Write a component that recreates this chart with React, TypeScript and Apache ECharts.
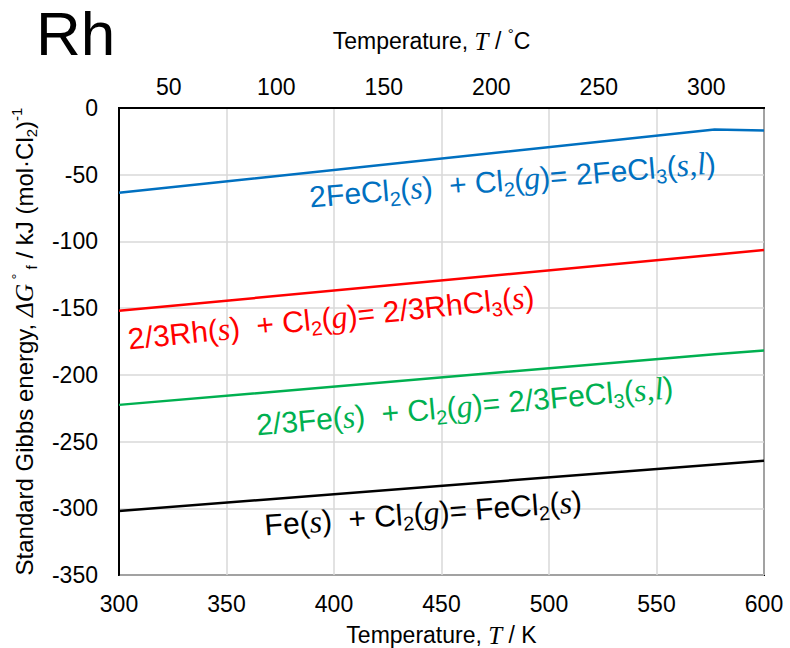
import React, { useEffect, useRef } from "react";
import * as echarts from "echarts";

const kelvinTicks = [300, 350, 400, 450, 500, 550, 600];
const celsiusTicks = [50, 100, 150, 200, 250, 300];
const energyTicks = [0, -50, -100, -150, -200, -250, -300, -350];

const seriesNames = [
  "2FeCl2(s) + Cl2(g) = 2FeCl3(s,l)",
  "2/3Rh(s) + Cl2(g) = 2/3RhCl3(s)",
  "2/3Fe(s) + Cl2(g) = 2/3FeCl3(s,l)",
  "Fe(s) + Cl2(g) = FeCl2(s)",
];
const seriesColors = ["#0070C0", "#FF0000", "#00B050", "#000000"];

const feCl2ToFeCl3: [number, number][] = [
  [300, -63.5],
  [577, -16.2],
  [600, -16.8],
];
const rhToRhCl3: [number, number][] = [
  [300, -152],
  [600, -106.5],
];
const feToFeCl3: [number, number][] = [
  [300, -222.5],
  [577, -184.5],
  [600, -181.7],
];
const feToFeCl2: [number, number][] = [
  [300, -302],
  [600, -264.3],
];
const seriesData = [feCl2ToFeCl3, rhToRhCl3, feToFeCl3, feToFeCl2];

const labelTexts = [
  "2FeCl{sub|2}({it|s})  + Cl{sub|2}({it|g})= 2FeCl{sub|3}({it|s,l})",
  "2/3Rh({it|s})  + Cl{sub|2}({it|g})= 2/3RhCl{sub|3}({it|s})",
  "2/3Fe({it|s})  + Cl{sub|2}({it|g})= 2/3FeCl{sub|3}({it|s,l})",
  "Fe({it|s})  + Cl{sub|2}({it|g})= FeCl{sub|2}({it|s})",
];

const SANS = "Liberation Sans, Arial, sans-serif";
const SERIF = "Liberation Serif, Times New Roman, serif";

export default function App() {
  const ref = useRef<HTMLDivElement>(null);
  useEffect(() => {
    if (!ref.current) return;
    const chart = echarts.init(ref.current, undefined, { renderer: "svg" });

    const richLabel = (color: string) => ({
      sub: { fontSize: 20, lineHeight: 20, verticalAlign: "bottom", fontFamily: SANS, fill: color },
      it: { fontSize: 32, lineHeight: 38, fontStyle: "italic", fontFamily: SERIF, fill: color },
    });

    const labelPos = [
      { x: 311, y: 216, rot: 4.8 },
      { x: 130, y: 358, rot: 6.0 },
      { x: 258, y: 444, rot: 5.2 },
      { x: 266, y: 544, rot: 4.3 },
    ];

    const axisNameRich = {
      it: { fontSize: 25.5, lineHeight: 30, fontStyle: "italic", fontFamily: SERIF, color: "#000" },
      sup: { fontSize: 15, lineHeight: 15, verticalAlign: "top", fontFamily: SANS, color: "#000" },
      sub: { fontSize: 15, lineHeight: 15, verticalAlign: "bottom", fontFamily: SANS, color: "#000" },
    };

    const axisNameRichTop = {
      it: { fontSize: 25, lineHeight: 30, fontStyle: "italic", fontFamily: SERIF, color: "#000" },
      sup: { fontSize: 15, lineHeight: 15, verticalAlign: "top", fontFamily: SANS, color: "#000" },
    };

    chart.setOption({
      animation: false,
      backgroundColor: "#ffffff",
      grid: {
        left: 119,
        right: 26,
        top: 108,
        bottom: 73,
        show: true,
        borderColor: "#000",
        borderWidth: 2,
        outerBoundsMode: "none",
        containLabel: false,
      },
      xAxis: [
        {
          type: "value",
          min: 300,
          max: 600,
          interval: 50,
          position: "bottom",
          axisLine: { show: true, lineStyle: { color: "#000", width: 2 } },
          axisTick: { show: false },
          axisLabel: {
            fontSize: 23,
            fontFamily: SANS,
            color: "#000",
            margin: 17,
            customValues: kelvinTicks,
          },
          splitLine: { show: true, lineStyle: { color: "#d9d9d9", width: 1.5 } },
          name: "Temperature, {it|T} / K",
          nameLocation: "middle",
          nameGap: 45,
          nameTextStyle: {
            fontSize: 23,
            fontFamily: SANS,
            color: "#000",
            lineHeight: 30,
            rich: axisNameRichTop,
          },
        },
        {
          type: "value",
          min: 26.85,
          max: 326.85,
          position: "top",
          axisLine: { show: true, lineStyle: { color: "#000", width: 2 } },
          axisTick: { show: false },
          axisLabel: {
            fontSize: 23,
            fontFamily: SANS,
            color: "#000",
            margin: 10,
            customValues: celsiusTicks,
          },
          splitLine: { show: false },
          name: "Temperature, {it|T} / {sup|°}C",
          nameLocation: "middle",
          nameGap: 52,
          nameTextStyle: {
            fontSize: 23,
            fontFamily: SANS,
            color: "#000",
            lineHeight: 30,
            padding: [0, 20, 0, 0],
            rich: axisNameRichTop,
          },
        },
      ],
      yAxis: {
        type: "value",
        min: -350,
        max: 0,
        interval: 50,
        axisLine: { show: true, lineStyle: { color: "#000", width: 2 } },
        axisTick: { show: false },
        axisLabel: {
          fontSize: 23,
          fontFamily: SANS,
          color: "#000",
          margin: 21,
          customValues: energyTicks,
        },
        splitLine: { show: true, lineStyle: { color: "#d9d9d9", width: 1.5 } },
        name:
          "Standard Gibbs energy, {it|ΔG}{sup| °}{sub| f} / kJ (mol·Cl{sub|2}){sup|-1}",
        nameLocation: "middle",
        nameRotate: 90,
        nameGap: 80,
        nameTextStyle: {
          fontSize: 24,
          fontFamily: SANS,
          color: "#000",
          lineHeight: 30,
          rich: axisNameRich,
        },
      },
      series: seriesData.map((d, i) => ({
        name: seriesNames[i],
        type: "line",
        data: d,
        xAxisIndex: 0,
        showSymbol: false,
        symbol: "none",
        lineStyle: { color: seriesColors[i], width: 2.5 },
        z: 3,
      })),
      graphic: [
        {
          type: "text",
          left: 36,
          top: 2,
          style: {
            text: "Rh",
            fontSize: 62,
            fontFamily: SANS,
            fill: "#000",
          },
        },
        ...labelTexts.map((t, i) => ({
          type: "text",
          x: labelPos[i].x,
          y: labelPos[i].y,
          rotation: (labelPos[i].rot * Math.PI) / 180,
          z: 10,
          style: {
            text: t,
            fontSize: 30,
            lineHeight: 38,
            fontFamily: SANS,
            fill: seriesColors[i],
            align: "left",
            verticalAlign: "bottom",
            rich: richLabel(seriesColors[i]),
          },
        })),
      ],
    });
    return () => chart.dispose();
  }, []);
  return (
    <div
      ref={ref}
      style={{ position: "fixed", left: 0, top: 0, width: 790, height: 648 }}
    />
  );
}
